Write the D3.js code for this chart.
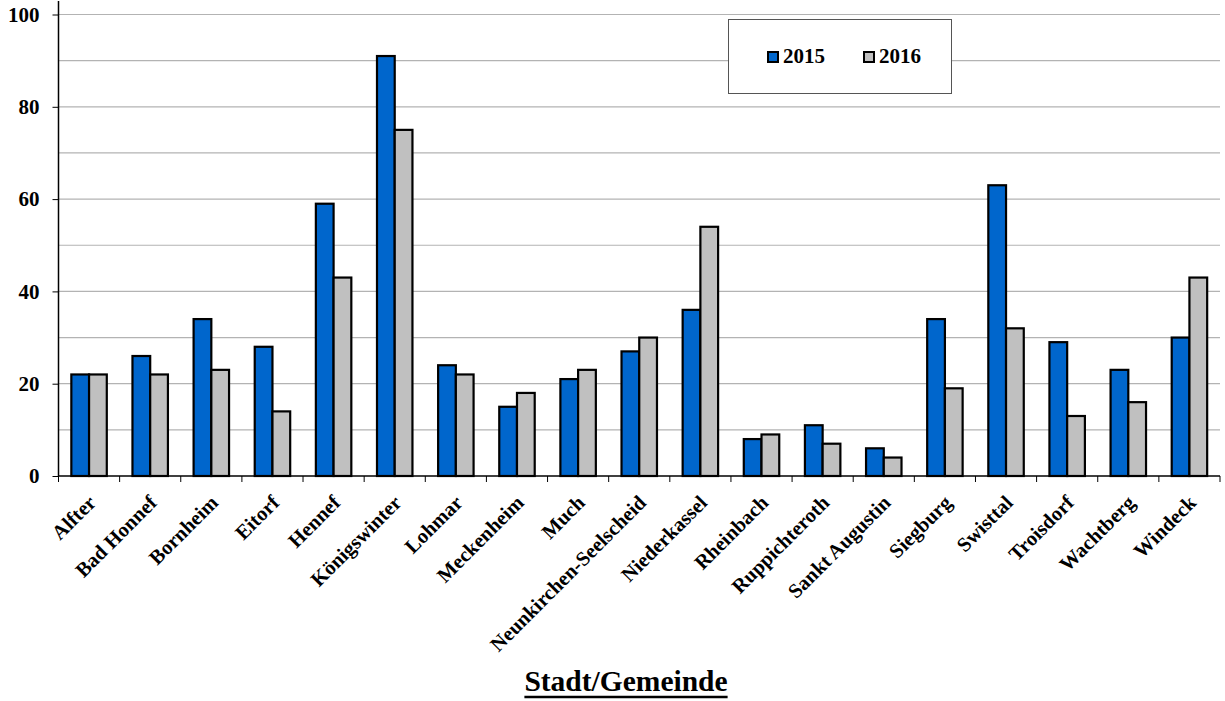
<!DOCTYPE html>
<html>
<head>
<meta charset="utf-8">
<script src="https://cdn.jsdelivr.net/npm/d3@7"></script>
<style>
  body { margin: 0; background: #fff; }
  svg { display: block; font-family: "Liberation Serif", "Times New Roman", serif; font-weight: bold; }
</style>
</head>
<body>
<svg id="chart" width="1225" height="701"></svg>
<script>
// Gemeinden im Rhein-Sieg-Kreis
const categories = ["Alfter", "Bad Honnef", "Bornheim", "Eitorf", "Hennef", "Königswinter", "Lohmar",
  "Meckenheim", "Much", "Neunkirchen-Seelscheid", "Niederkassel", "Rheinbach", "Ruppichteroth",
  "Sankt Augustin", "Siegburg", "Swisttal", "Troisdorf", "Wachtberg", "Windeck"];
const values2015 = [22, 26, 34, 28, 59, 91, 24, 15, 21, 27, 36, 8, 11, 6, 34, 63, 29, 23, 30];
const values2016 = [22, 22, 23, 14, 43, 75, 22, 18, 23, 30, 54, 9, 7, 4, 19, 32, 13, 16, 43];
const seriesNames = ["2015", "2016"];
const yTickLabels = [0, 20, 40, 60, 80, 100];
const xTitle = "Stadt/Gemeinde";

const colors = ["#0066CC", "#C0C0C0"];
const svg = d3.select("#chart");
const plotLeft = 58.5, plotRight = 1220, plotTop = 14.5, plotBottom = 476;

const x = d3.scaleBand().domain(categories).range([plotLeft, plotRight]).paddingInner(0.42).paddingOuter(0.21);
const xs = d3.scaleBand().domain(seriesNames).range([0, x.bandwidth()]);
const y = d3.scaleLinear().domain([0, 100]).range([plotBottom, plotTop]);

// horizontal gridlines every 10
svg.append("g").selectAll("line").data(d3.range(10, 101, 10)).join("line")
  .attr("x1", plotLeft).attr("x2", plotRight)
  .attr("y1", d => y(d)).attr("y2", d => y(d))
  .attr("stroke", "#b3b3b3").attr("stroke-width", 1.2);

// bars
const rows = categories.map((c, i) => ({ c, v: [values2015[i], values2016[i]] }));
const groups = svg.append("g").selectAll("g").data(rows).join("g")
  .attr("transform", d => `translate(${x(d.c)},0)`);
groups.selectAll("rect").data(d => d.v.map((v, k) => ({ v, k }))).join("rect")
  .attr("x", d => xs(seriesNames[d.k]))
  .attr("y", d => y(d.v))
  .attr("width", xs.bandwidth())
  .attr("height", d => y(0) - y(d.v))
  .attr("fill", d => colors[d.k])
  .attr("stroke", "#000").attr("stroke-width", 2.2);

// y axis
const yAxis = d3.axisLeft(y).tickValues(yTickLabels).tickSize(6).tickSizeOuter(0).tickPadding(13);
const yg = svg.append("g").attr("transform", `translate(${plotLeft},0)`).call(yAxis);
yg.select(".domain").attr("d", `M0,1V${plotBottom}`).attr("stroke", "#000").attr("stroke-width", 1.5);
yg.selectAll(".tick line").attr("stroke", "#000");
yg.selectAll(".tick text").attr("font-size", 21).attr("font-weight", "bold").attr("fill", "#000")
  .attr("font-family", "Liberation Serif, serif");

// x axis baseline and ticks between categories
const xg = svg.append("g");
xg.append("line").attr("x1", plotLeft).attr("x2", plotRight).attr("y1", plotBottom).attr("y2", plotBottom)
  .attr("stroke", "#000").attr("stroke-width", 1.5);
const step = x.step();
xg.selectAll("line.t").data(d3.range(categories.length + 1)).join("line").attr("class", "t")
  .attr("x1", i => plotLeft + i * step).attr("x2", i => plotLeft + i * step)
  .attr("y1", plotBottom).attr("y2", plotBottom + 6).attr("stroke", "#000");

// rotated category labels
xg.selectAll("text").data(categories).join("text")
  .attr("transform", d => `translate(${x(d) + x.bandwidth() / 2 + 8},${plotBottom + 28}) rotate(-45)`)
  .attr("text-anchor", "end")
  .attr("font-size", 20.5).attr("fill", "#000")
  .text(d => d);

// axis title with a heavy underline
const title = svg.append("text").attr("x", 626).attr("y", 691).attr("text-anchor", "middle")
  .attr("font-size", 29.5).attr("fill", "#000").text(xTitle);
const tw = title.node().getComputedTextLength();
svg.append("line").attr("x1", 626 - tw / 2).attr("x2", 626 + tw / 2)
  .attr("y1", 697).attr("y2", 697).attr("stroke", "#000").attr("stroke-width", 2.6);

// legend
const lg = svg.append("g");
lg.append("rect").attr("x", 728.5).attr("y", 19.5).attr("width", 223).attr("height", 74)
  .attr("fill", "#fff").attr("stroke", "#555").attr("stroke-width", 1);
const items = lg.selectAll("g").data(seriesNames).join("g")
  .attr("transform", (d, i) => `translate(${768 + i * 96},52)`);
items.append("rect").attr("width", 10).attr("height", 10)
  .attr("fill", (d, i) => colors[i]).attr("stroke", "#000").attr("stroke-width", 2);
items.append("text").attr("x", 15).attr("y", 11).attr("font-size", 21).attr("fill", "#000").text(d => d);
</script>
</body>
</html>
